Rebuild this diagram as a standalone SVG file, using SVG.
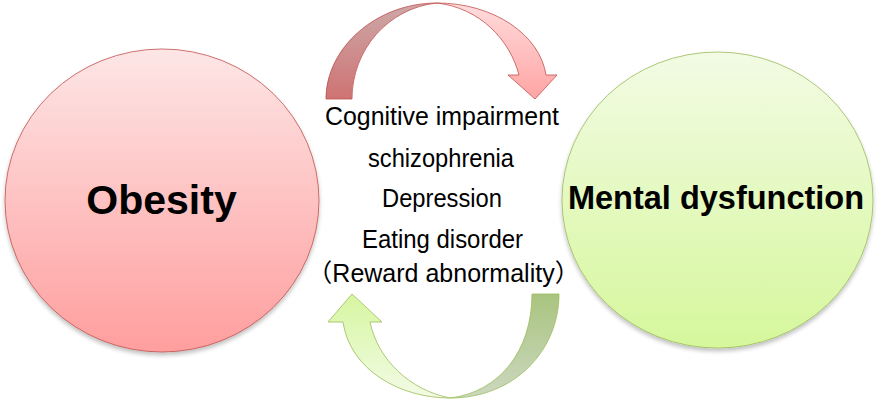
<svg xmlns="http://www.w3.org/2000/svg" width="890" height="407" viewBox="0 0 890 407">
<defs>
<linearGradient id="gRed" x1="0" y1="0" x2="0" y2="1"><stop offset="0" stop-color="#fde6e6"/><stop offset="1" stop-color="#ff9e9e"/></linearGradient>
<linearGradient id="gGreen" x1="0" y1="0" x2="0" y2="1"><stop offset="0" stop-color="#f2fbe4"/><stop offset="1" stop-color="#d6f79c"/></linearGradient>
<linearGradient id="gRedBack" x1="0" y1="0" x2="0" y2="1"><stop offset="0" stop-color="#cca8a8"/><stop offset="1" stop-color="#cf7373"/></linearGradient>
<linearGradient id="gRedFront" x1="0" y1="0" x2="0" y2="1"><stop offset="0" stop-color="#ffdcdc"/><stop offset="1" stop-color="#ffa4a4"/></linearGradient>
<linearGradient id="gGreenBack" x1="0" y1="0" x2="0" y2="1"><stop offset="0" stop-color="#a9c47f"/><stop offset="1" stop-color="#ccd8c0"/></linearGradient>
<linearGradient id="gGreenFront" x1="0" y1="1" x2="0" y2="0"><stop offset="0" stop-color="#f2fbe6"/><stop offset="1" stop-color="#d6f6a0"/></linearGradient>
<filter id="sh" x="-10%" y="-10%" width="120%" height="125%"><feGaussianBlur in="SourceAlpha" stdDeviation="2"/><feOffset dy="3"/><feComponentTransfer><feFuncA type="linear" slope="0.25"/></feComponentTransfer><feMerge><feMergeNode/><feMergeNode in="SourceGraphic"/></feMerge></filter>
</defs>
<style>
.lbl{font-family:"Liberation Sans",Arial,"Noto Sans CJK SC",sans-serif;font-size:25px;fill:#000;text-anchor:middle}
.big{font-family:"Liberation Sans",Arial,sans-serif;font-weight:bold;fill:#000;text-anchor:middle}
</style>
<rect width="890" height="407" fill="#fff"/>
<g id="connectors">
 <g id="arrow-top" stroke="#c0504d" stroke-width="0.8" stroke-linejoin="round">
  <path d="M326,99 C326,48 376,3 437,3 C388,8 352,50 352,99 Z" fill="url(#gRedBack)"/>
  <path d="M437,3 C494,3 540,35 546,75 L557,75 L535,99 L508,75 L519,75 C510,40 480,8 437,3 Z" fill="url(#gRedFront)"/>
 </g>
 <g id="arrow-bottom" stroke="#9bbb59" stroke-width="0.8" stroke-linejoin="round">
  <path d="M532,294 L559,294 C559,350 515,398 450,398 C500,392 532,350 532,294 Z" fill="url(#gGreenBack)"/>
  <path d="M450,398 C400,398 350,370 343,322 L328,322 L352,294 L382,322 L370,322 C378,360 410,390 450,398 Z" fill="url(#gGreenFront)"/>
 </g>
</g>
<g id="node-obesity">
 <ellipse cx="162" cy="200.5" rx="157" ry="151.5" fill="url(#gRed)" stroke="#c0504d" stroke-width="0.8" filter="url(#sh)"/>
 <text class="big" x="161.5" y="214" font-size="41">Obesity</text>
</g>
<g id="node-mental">
 <ellipse cx="717.5" cy="200" rx="155.5" ry="148" fill="url(#gGreen)" stroke="#9bbb59" stroke-width="0.8" filter="url(#sh)"/>
 <text class="big" x="716" y="209" font-size="32.5">Mental dysfunction</text>
</g>
<g id="node-center">
 <text class="lbl" x="442" y="125" textLength="234" lengthAdjust="spacingAndGlyphs">Cognitive impairment</text>
 <text class="lbl" x="441" y="167" textLength="146" lengthAdjust="spacingAndGlyphs">schizophrenia</text>
 <text class="lbl" x="442" y="207" textLength="120" lengthAdjust="spacingAndGlyphs">Depression</text>
 <text class="lbl" x="442.5" y="248" textLength="161" lengthAdjust="spacingAndGlyphs">Eating disorder</text>
 <text class="lbl" x="443.5" y="282">（Reward abnormality）</text>
</g>
</svg>
